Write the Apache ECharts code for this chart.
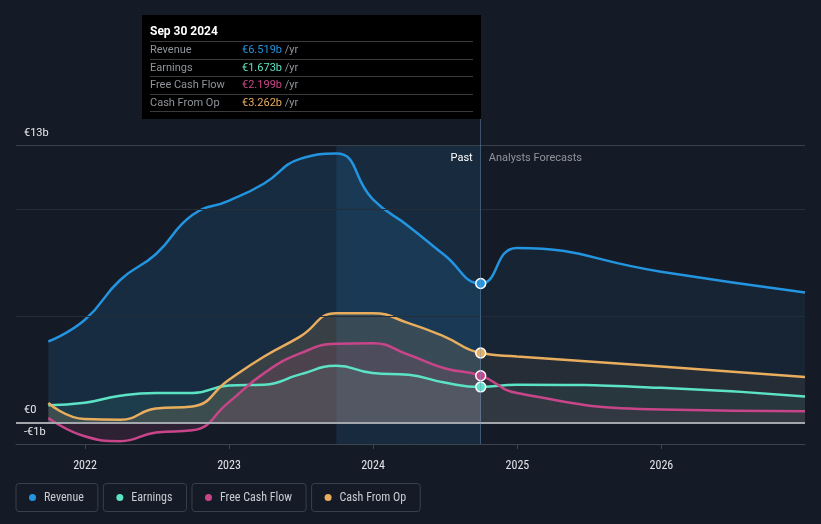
<!DOCTYPE html>
<html><head><meta charset="utf-8">
<script src="https://cdn.jsdelivr.net/npm/echarts@6/dist/echarts.min.js"></script>
<style>html,body{margin:0;padding:0;background:#151b26;}#c{width:821px;height:524px;}</style>
</head><body><div id="c"></div>
<script>
// ---- data ----
const dates = ['2021-09-30','2021-12-31','2022-03-31','2022-06-30','2022-09-30','2022-12-31','2023-03-31','2023-06-30','2023-09-30','2023-12-31','2024-03-31','2024-06-30','2024-09-30','2024-12-31','2025-12-31','2026-12-31'];
const revenue  = [3.80, 4.81, 6.68, 7.90, 9.72, 10.39, 11.20, 12.35, 12.60, 10.47, 9.20, 7.85, 6.519, 8.18, 7.07, 6.09];
const earnings = [0.81, 0.93, 1.26, 1.39, 1.39, 1.74, 1.78, 2.26, 2.66, 2.32, 2.24, 1.88, 1.673, 1.78, 1.63, 1.23];
const fcf      = [0.22, -0.64, -0.87, -0.46, -0.36, 0.95, 2.32, 3.24, 3.69, 3.72, 3.18, 2.55, 2.199, 1.39, 0.61, 0.53];
const cfo      = [0.92, 0.17, 0.14, 0.66, 0.76, 2.00, 3.10, 4.03, 5.12, 5.12, 4.66, 4.03, 3.262, 3.10, 2.63, 2.14];
const seriesNames = ['Revenue','Earnings','Free Cash Flow','Cash From Op'];
const colors = ['#2394df','#5ce3c6','#c9458a','#e9ad5e'];
const yLabelValues = [-1, 0, 13];
const gridValues = [5, 10];
const topGridValue = 13;
const tipIndex = 12;
const tipTitle = 'Sep 30 2024';
const bandStart = '2023-09-30';
const bandEnd = '2024-09-30';
const pastLabel = 'Past';
const forecastLabel = 'Analysts Forecasts';
const xMin = '2021-07-10';
const xMax = '2026-12-31';

// ---- build ----
const T = d => new Date(d + 'T00:00:00').getTime();
const xs = dates.map(T);
const splitFrac = (xs[tipIndex] - xs[0]) / (xs[xs.length - 1] - xs[0]);
function rgba(hex, a) {
  const n = parseInt(hex.slice(1), 16);
  return `rgba(${(n >> 16) & 255},${(n >> 8) & 255},${n & 255},${a})`;
}
function grad(color, a1, a2) {
  return new echarts.graphic.LinearGradient(0, 0, 1, 0, [
    {offset: 0, color: rgba(color, a1)},
    {offset: splitFrac, color: rgba(color, a1)},
    {offset: splitFrac, color: rgba(color, a2)},
    {offset: 1, color: rgba(color, a2)}
  ]);
}
const allVals = [revenue, earnings, fcf, cfo];
function mk(i, pastA, futA, extra) {
  const color = colors[i];
  return Object.assign({
    name: seriesNames[i], type: 'line', smooth: 0.5,
    symbol: 'none', showSymbol: true, animation: false,
    lineStyle: {color, width: 2.5}, itemStyle: {color},
    areaStyle: {color: grad(color, pastA, futA), origin: 'auto'},
    emphasis: {disabled: true},
    data: allVals[i].map((v, k) => k === tipIndex
      ? {value: [xs[k], v], symbol: 'circle', symbolSize: 9, itemStyle: {color, borderColor: '#ffffff', borderWidth: 1.5}}
      : [xs[k], v])
  }, extra || {});
}
const fmt = v => '€' + v.toFixed(3) + 'b';
function tipHtml() {
  let h = `<div style="width:323px;font-family:Roboto,sans-serif;font-size:11px;">`;
  h += `<div style="color:#fff;font-weight:bold;font-size:12px;line-height:16px;padding-bottom:2px;border-bottom:1px solid #3a3a3a;">${tipTitle}</div>`;
  seriesNames.forEach((n, i) => {
    h += `<div style="display:flex;line-height:16.5px;border-bottom:1px solid #3a3a3a;"><span style="width:92px;color:#8f949b;">${n}</span><span style="color:${colors[i]};">${fmt(allVals[i][tipIndex])}</span><span style="color:#8f949b;">&nbsp;/yr</span></div>`;
  });
  return h + '</div>';
}
const narrow = '"Liberation Sans Narrow", "Roboto Condensed", Roboto, sans-serif';
const rich = {t: {color: '#c8cbd0', fontSize: 12, padding: [0, 0, 0, 8], fontFamily: narrow}};
colors.forEach((c, i) => { rich['d' + i] = {width: 7, height: 7, borderRadius: 3.5, backgroundColor: c}; });

const option = {
  backgroundColor: '#151b26',
  animation: false,
  grid: {left: 16, right: 16, top: 15, bottom: 80},
  xAxis: {
    type: 'time', min: T(xMin), max: T(xMax),
    minInterval: 365 * 24 * 3600 * 1000,
    axisLine: {onZero: false, lineStyle: {color: '#3e444e', width: 1}},
    axisTick: {show: true, length: 5, lineStyle: {color: '#3e444e'}},
    splitLine: {show: false},
    axisLabel: {color: '#e2e4e8', fontSize: 12, margin: 16, formatter: '{yyyy}', fontFamily: narrow}
  },
  yAxis: {
    type: 'value', min: -1, max: 19.09, interval: 1,
    axisLine: {show: false}, axisTick: {show: false}, splitLine: {show: false},
    axisLabel: {
      inside: true, margin: 8, color: '#e8eaed', fontSize: 11, fontFamily: 'Roboto, sans-serif',
      verticalAlign: 'bottom', lineHeight: 14, padding: [0, 0, 5, 0],
      formatter: v => yLabelValues.includes(v) ? (v < 0 ? '-€' + Math.abs(v) + 'b' : (v === 0 ? '€0' : '€' + v + 'b')) : ''
    }
  },
  legend: {
    left: 11, top: 483, padding: 0, itemGap: 0, itemWidth: 0, itemHeight: 0, icon: 'none',
    data: seriesNames,
    formatter: name => `{d${seriesNames.indexOf(name)}|}{t|${name}}`,
    textStyle: {color: '#c8cbd0', fontSize: 12, borderColor: '#3a4049', borderWidth: 1, borderRadius: 3, padding: [7, 14, 7, 13], lineHeight: 14, rich}
  },
  tooltip: {
    trigger: 'axis', alwaysShowContent: true, showContent: true, position: [142, 15],
    backgroundColor: '#000', borderWidth: 0, padding: [8, 8, 7, 8], transitionDuration: 0,
    extraCssText: 'border-radius:0;box-shadow:none;',
    axisPointer: {type: 'line', animation: false, lineStyle: {color: 'rgba(110,150,190,0.45)', width: 1, type: 'solid'}, label: {show: false}},
    formatter: tipHtml
  },
  series: [
    mk(0, 0.2, 0.1, {
      markArea: {silent: true, itemStyle: {color: 'rgba(35,148,223,0.13)'},
        data: [[{xAxis: T(bandStart), yAxis: -1}, {xAxis: T(bandEnd), yAxis: topGridValue}]]},
      markLine: {silent: true, symbol: 'none', animation: false, label: {show: false},
        data: gridValues.map(v => ({yAxis: v, lineStyle: {color: '#252d38', width: 1, type: 'solid'}}))
          .concat([{yAxis: topGridValue, lineStyle: {color: '#3a4049', width: 1, type: 'solid'}}])},
      markPoint: {silent: true, symbol: 'circle', symbolSize: 0, animation: false,
        data: [
          {coord: [T(bandEnd), 12.4], label: {show: true, position: 'left', distance: 8, formatter: pastLabel, color: '#ffffff', fontSize: 11, fontFamily: 'Roboto, sans-serif'}},
          {coord: [T(bandEnd), 12.4], label: {show: true, position: 'right', distance: 8, formatter: forecastLabel, color: '#8f949b', fontSize: 11, fontFamily: 'Roboto, sans-serif'}}
        ]}
    }),
    mk(1, 0.12, 0.08),
    mk(2, 0.2, 0.08),
    mk(3, 0.22, 0.1, {
      markLine: {silent: true, symbol: 'none', animation: false, label: {show: false},
        data: [{yAxis: 0, lineStyle: {color: '#a3a7ad', width: 2, type: 'solid'}}]}
    })
  ]
};
const chart = echarts.init(document.getElementById('c'));
chart.setOption(option);
chart.dispatchAction({type: 'showTip', seriesIndex: 0, dataIndex: tipIndex});
</script></body></html>
